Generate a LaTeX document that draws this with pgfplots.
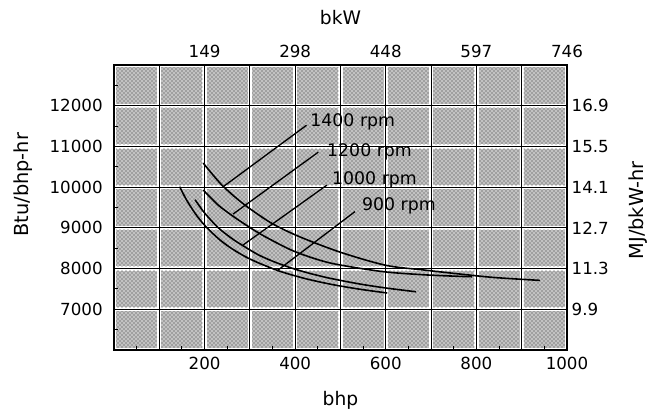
\documentclass[border=0pt]{standalone}
\usepackage{pgfplots}
\pgfplotsset{compat=1.18}
\usepackage{fontspec}
\setmainfont{DejaVu Sans}
\usetikzlibrary{patterns}

% cell size of the stippled grid (axis 339.75pt x 213.75pt, 10 x 7 cells)
\def\cw{33.975pt}
\def\ch{30.5357pt}

\begin{document}
\begin{tikzpicture}
\useasboundingbox (-85.5pt,-47.25pt) rectangle (411.75pt,262.5pt);

% stippled cells behind the grid
\foreach \i in {0,...,9}{
  \foreach \j in {0,...,6}{
    \fill[black!24] ({\i*\cw+1.6pt},{\j*\ch+1.6pt}) rectangle ({(\i+1)*\cw-1.6pt},{(\j+1)*\ch-1.6pt});
    \fill[pattern=crosshatch dots, pattern color=black!80] ({\i*\cw+1.6pt},{\j*\ch+1.6pt}) rectangle ({(\i+1)*\cw-1.6pt},{(\j+1)*\ch-1.6pt});
  }
}

\begin{axis}[
  at={(0,0)}, anchor=south west,
  scale only axis, width=339.75pt, height=213.75pt,
  xmin=0, xmax=1000, ymin=6000, ymax=13000,
  scaled ticks=false,
  xtick={0,100,...,1000},
  xticklabels={{},{},200,{},400,{},600,{},800,{},1000},
  ytick={6000,7000,...,13000},
  yticklabels={{},7000,8000,9000,10000,11000,12000,{}},
  minor xtick={50,150,...,950},
  minor ytick={6500,7500,...,12500},
  xtick pos=left, ytick pos=left,
  tick align=inside,
  major tick length=0pt, minor tick length=3pt,
  minor tick style={black, line width=0.8pt},
  grid=major,
  major grid style={black, line width=0.8pt},
  axis line style={black, line width=1.1pt},
  tick label style={font=\fontsize{12.5}{14}\selectfont},
  xticklabel style={yshift=-2pt},
  yticklabel style={xshift=-5pt},
  xlabel={bhp},
  ylabel={Btu/bhp-hr},
  every axis x label/.style={at={(axis description cs:0.5,0)}, anchor=center, yshift=-37.5pt, font=\fontsize{14}{16}\selectfont},
  every axis y label/.style={at={(axis description cs:0,0.58)}, xshift=-68.25pt, rotate=90, anchor=center, font=\fontsize{14.5}{16}\selectfont},
]
% 900 rpm
\addplot[black, line width=1.2pt, smooth] coordinates {
  (145,10010) (160,9688) (180,9342) (200,9065) (230,8740) (260,8490)
  (300,8235) (360,7958) (420,7760) (480,7612) (540,7497) (603,7400)
};
% 1000 rpm
\addplot[black, line width=1.2pt, smooth] coordinates {
  (179,9690) (200,9366) (230,9005) (260,8740) (285,8560) (320,8330)
  (360,8138) (410,7950) (470,7778) (540,7626) (600,7523) (667,7430)
};
% 1200 rpm
\addplot[black, line width=1.2pt, smooth] coordinates {
  (197,9930) (230,9560) (270,9230) (320,8870) (370,8570) (410,8370)
  (480,8130) (590,7930) (680,7850) (760,7810) (790,7800)
};
% 1400 rpm
\addplot[black, line width=1.2pt, smooth] coordinates {
  (197,10590) (220,10280) (240,10030) (270,9730) (300,9470) (350,9100)
  (410,8780) (500,8400) (600,8080) (680,7970) (760,7870) (840,7780) (940,7710)
};
% leader lines
\addplot[black, line width=1pt] coordinates {(241,10010) (425,11520)};
\addplot[black, line width=1pt] coordinates {(263,9340) (451,10860)};
\addplot[black, line width=1pt] coordinates {(285,8580) (470,10050)};
\addplot[black, line width=1pt] coordinates {(360,7945) (532,9400)};

\begin{scope}[every node/.style={anchor=west, inner sep=0pt, font=\fontsize{13}{15}\selectfont}]
\node at (axis cs:433,11600) {1400 rpm};
\node at (axis cs:470,10863) {1200 rpm};
\node at (axis cs:481,10175) {1000 rpm};
\node at (axis cs:547,9537) {900 rpm};
\end{scope}
\end{axis}

% secondary scales: bkW on top, MJ/bkW-hr on the right
\begin{axis}[
  at={(0,0)}, anchor=south west,
  scale only axis, width=339.75pt, height=213.75pt,
  xmin=0, xmax=1000, ymin=6000, ymax=13000,
  scaled ticks=false,
  axis x line*=top, axis y line*=right,
  axis line style={black, line width=1.1pt},
  xtick={200,400,...,1000},
  xticklabels={149,298,448,597,746},
  ytick={7000,8000,...,12000},
  yticklabels={9.9,11.3,12.7,14.1,15.5,16.9},
  major tick length=0pt,
  tick label style={font=\fontsize{12.5}{14}\selectfont},
  xticklabel style={yshift=2pt},
  xlabel={bkW},
  ylabel={MJ/bkW-hr},
  every axis x label/.style={at={(axis description cs:0.5,1)}, anchor=center, yshift=35.25pt, font=\fontsize{14}{16}\selectfont},
  every axis y label/.style={at={(axis description cs:1,0.49)}, xshift=53.25pt, rotate=90, anchor=center, font=\fontsize{14.5}{16}\selectfont},
]
\addplot[draw=none] coordinates {(0,6000)};
\end{axis}
\end{tikzpicture}
\end{document}
